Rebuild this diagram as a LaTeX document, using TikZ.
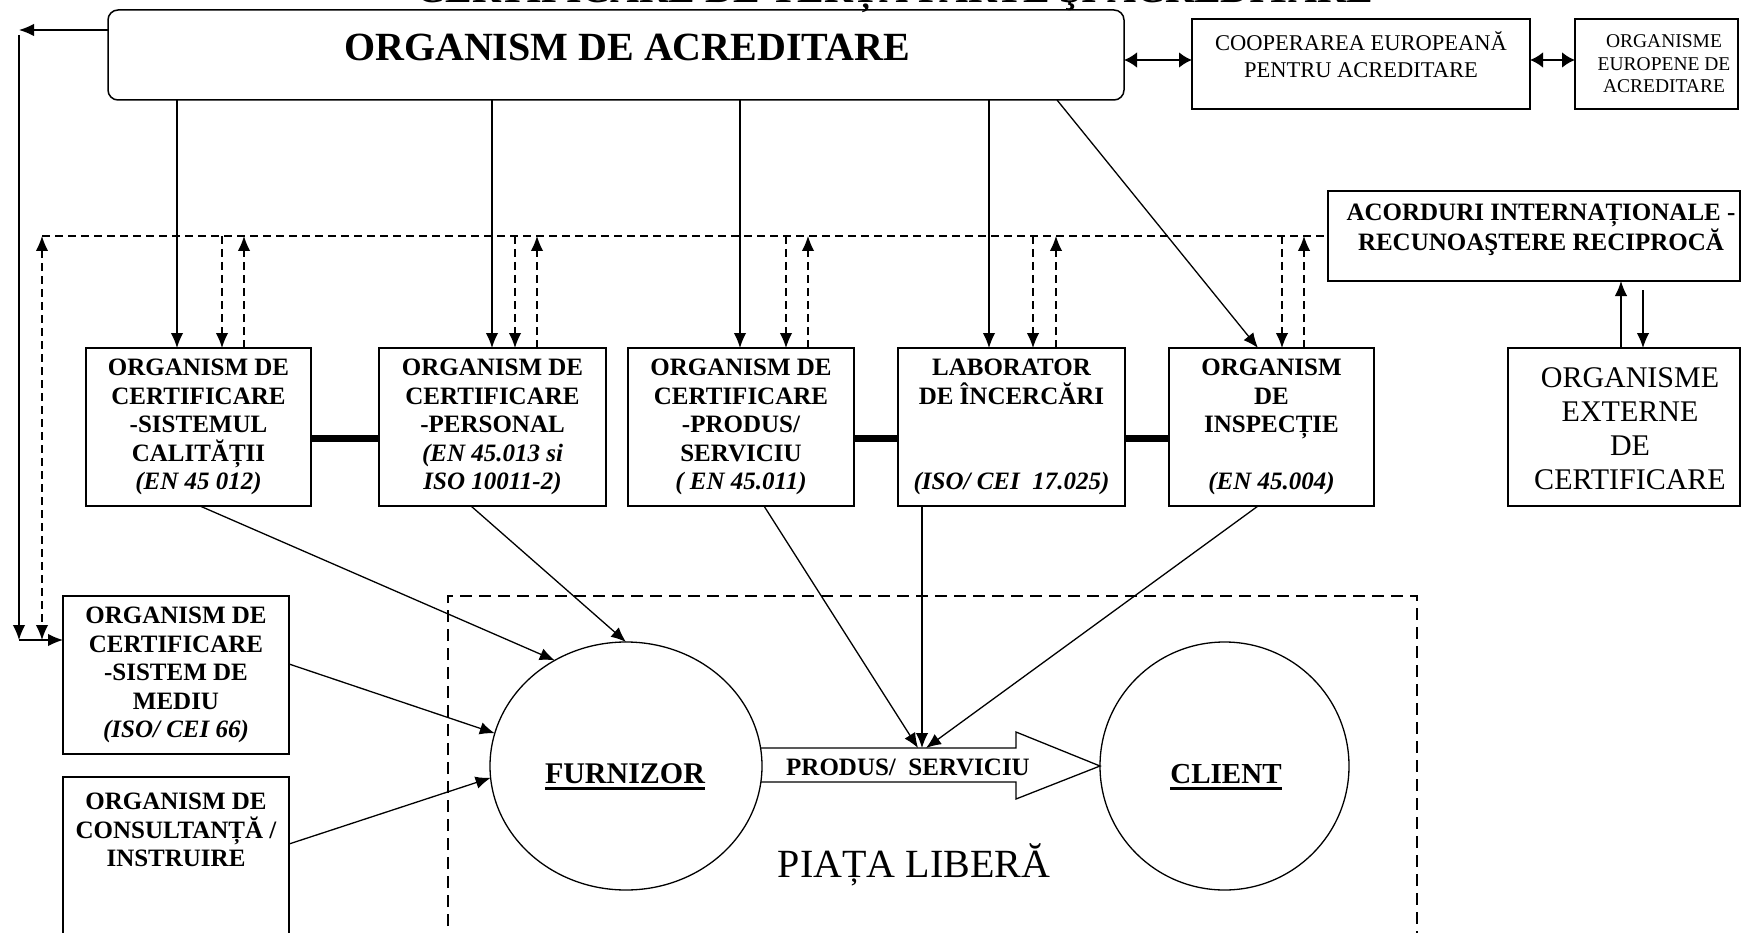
\documentclass[tikz,border=0pt]{standalone}
\usepackage{fontspec}
\setmainfont{Liberation Serif}
\usetikzlibrary{arrows.meta,calc,shapes.geometric}
\newcommand{\myfs}[2]{\fontsize{#1}{#2}\selectfont}
\begin{document}
\begin{tikzpicture}[x=1pt,y=-1pt,
  box/.style={draw, line width=1.5pt, inner sep=0pt, outer sep=0pt},
  rowbox/.style={box, minimum height=158pt, align=center, font=\bfseries\myfs{25}{28.6}},
  conn/.style={line width=1.3pt, -{Latex[length=15pt,width=12.5pt]}},
  dline/.style={line width=1.3pt, dash pattern=on 8pt off 5pt},
  dconn/.style={dline, -{Latex[length=15pt,width=12.5pt]}},
  dbl/.style={line width=2.6pt, {Latex[length=13pt,width=16pt]}-{Latex[length=13pt,width=16pt]}},
  link/.style={line width=7pt},
  oval/.style={draw, ellipse, line width=1.3pt, inner sep=0pt, outer sep=0pt},
  bigtxt/.style={font=\bfseries\myfs{40}{46}, inner sep=0pt}
]
\useasboundingbox (0,0) rectangle (1742,933);
\clip (0,0) rectangle (1742,933);

% title (cut at top)
\node[bigtxt, anchor=base] (title) at (895,3) {CERTIFICARE DE TERȚĂ PARTE ŞI ACREDITARE};

% top row
\node[box, rounded corners=10pt, minimum width=1016pt, minimum height=90pt] (acr) at (616,55) {};
\node[bigtxt] (acrt) at (627,47) {ORGANISM DE ACREDITARE};
\node[box, minimum width=338pt, minimum height=90pt] (coop) at (1361,64) {};
\node[font=\myfs{22.5}{27}, align=center, inner sep=0pt] (coopt) at (1361,55) {COOPERAREA EUROPEANĂ\\PENTRU ACREDITARE};
\node[box, minimum width=163pt, minimum height=90pt] (oeu) at (1656.5,64) {};
\node[font=\myfs{19.5}{22.5}, align=center, inner sep=0pt] (oeut) at (1664,64) {ORGANISME\\EUROPENE DE\\ACREDITARE};

% acorduri
\node[box, minimum width=412pt, minimum height=90pt] (acord) at (1534,236) {};
\node[font=\bfseries\myfs{25}{30}, align=center, inner sep=0pt] (acordt) at (1541,230) {ACORDURI INTERNAȚIONALE -\\RECUNOAŞTERE RECIPROCĂ};
\node[box, minimum width=232pt, minimum height=158pt] (ext) at (1624,427) {};
\node[font=\myfs{30}{34}, align=center, inner sep=0pt] (extt) at (1630,429) {ORGANISME\\EXTERNE\\DE\\CERTIFICARE};

% row of bodies
\node[rowbox, minimum width=225pt] (b1) at (198.5,427) {ORGANISM DE\\CERTIFICARE\\-SISTEMUL\\CALITĂȚII\\\textit{(EN 45 012)}};
\node[rowbox, minimum width=227pt] (b2) at (492.5,427) {ORGANISM DE\\CERTIFICARE\\-PERSONAL\\\textit{(EN 45.013 si}\\\textit{ISO 10011-2)}};
\node[rowbox, minimum width=226pt] (b3) at (741,427) {ORGANISM DE\\CERTIFICARE\\-PRODUS/\\SERVICIU\\\textit{( EN 45.011)}};
\node[rowbox, minimum width=227pt] (b4) at (1011.5,427) {LABORATOR\\DE ÎNCERCĂRI\\~\\~\\\textit{(ISO/ CEI~~17.025)}};
\node[rowbox, minimum width=205pt] (b5) at (1271.5,427) {ORGANISM\\DE\\INSPECȚIE\\~\\\textit{(EN 45.004)}};

% left boxes
\node[rowbox, minimum width=226pt] (med) at (176,675) {ORGANISM DE\\CERTIFICARE\\-SISTEM DE\\MEDIU\\\textit{(ISO/ CEI 66)}};
\node[box, minimum width=226pt, minimum height=168pt] (cons) at (176,861) {};
\node[font=\bfseries\myfs{25}{28.6}, align=center, inner sep=0pt] (const) at (176,830) {ORGANISM DE\\CONSULTANȚĂ /\\INSTRUIRE};

% market
\draw[line width=1.3pt, dash pattern=on 12pt off 7pt] (448,945) -- (448,596) -- (1417,596) -- (1417,945);
\node[oval, minimum width=272pt, minimum height=248pt] (furn) at (626,766) {};
\node[oval, minimum width=249pt, minimum height=248pt] (cli) at (1224.5,766) {};
\node[font=\bfseries\myfs{30}{34}, inner sep=0pt, anchor=base] (furnt) at (625,783) {FURNIZOR};
\node[font=\bfseries\myfs{29}{34}, inner sep=0pt, anchor=base] (clit) at (1226,783) {CLIENT};
\draw[line width=2.6pt] ($(furnt.base west)+(0,5.5)$) -- ($(furnt.base east)+(0,5.5)$);
\draw[line width=2.6pt] ($(clit.base west)+(0,5.5)$) -- ($(clit.base east)+(0,5.5)$);
\draw[line width=1.3pt] ($(furn.east)+(-1,-18)$) -- (1016,748) -- (1016,732) -- (cli.west) -- (1016,799) -- (1016,782) -- ($(furn.east)+(-1,16)$);
\node[font=\bfseries\myfs{25}{28}, inner sep=0pt, anchor=base] (prodt) at (908,775) {PRODUS/~~SERVICIU};
\node[font=\myfs{40}{46}, inner sep=0pt, anchor=base] (piata) at (914,877) {PIAȚA LIBERĂ};

% helper coordinates
\coordinate (v1) at (177,0);  \coordinate (d1a) at (222,0);  \coordinate (d1b) at (244,0);
\coordinate (v2) at (492,0);  \coordinate (d2a) at (515,0);  \coordinate (d2b) at (537,0);
\coordinate (v3) at (740,0);  \coordinate (d3a) at (786,0);  \coordinate (d3b) at (808,0);
\coordinate (v4) at (989,0);  \coordinate (d4a) at (1033,0); \coordinate (d4b) at (1056,0);
\coordinate (d5a) at (1282,0); \coordinate (d5b) at (1304,0);
\coordinate (v5s) at (1057,0); \coordinate (v5t) at (1258,0);
\coordinate (dl) at (42,236);
\coordinate (lt) at (19,30);
\coordinate (ltop) at (19,35);
\coordinate (lb) at (19,640);
\coordinate (dlb) at (42,640);
\coordinate (ly) at (0,438);
\coordinate (ay) at (0,60);
\coordinate (u1) at (1621,0);
\coordinate (u2) at (1643,290);
\coordinate (s1) at (200,0); \coordinate (s2) at (471,0); \coordinate (s3) at (764,0);
\coordinate (s4) at (922,0); \coordinate (s5) at (1258,0);
\coordinate (pa1) at (918,748); \coordinate (pa2) at (922,748); \coordinate (pa3) at (926,748);
\coordinate (my) at (0,664); \coordinate (cy) at (0,844);

% left feedback
\draw[conn] (acr.west |- lt) -- (lt);
\draw[conn] (ltop) -- (lb);
\draw[conn] (lb) -- (lb -| med.west);
\draw[dline, {Latex[length=15pt,width=12.5pt]}-{Latex[length=15pt,width=12.5pt]}] (dl) -- (dlb);
\draw[dline] (dl) -- (acord.west |- dl);

% from acreditare to bodies
\draw[conn] (acr.south -| v1) -- (b1.north -| v1);
\draw[conn] (acr.south -| v2) -- (b2.north -| v2);
\draw[conn] (acr.south -| v3) -- (b3.north -| v3);
\draw[conn] (acr.south -| v4) -- (b4.north -| v4);
\draw[conn] (acr.south -| v5s) -- (b5.north -| v5t);

% dashed pairs
\draw[dconn] (dl -| d1a) -- (b1.north -| d1a);
\draw[dconn] (b1.north -| d1b) -- (dl -| d1b);
\draw[dconn] (dl -| d2a) -- (b2.north -| d2a);
\draw[dconn] (b2.north -| d2b) -- (dl -| d2b);
\draw[dconn] (dl -| d3a) -- (b3.north -| d3a);
\draw[dconn] (b3.north -| d3b) -- (dl -| d3b);
\draw[dconn] (dl -| d4a) -- (b4.north -| d4a);
\draw[dconn] (b4.north -| d4b) -- (dl -| d4b);
\draw[dconn] (dl -| d5a) -- (b5.north -| d5a);
\draw[dconn] (b5.north -| d5b) -- (dl -| d5b);

% thick links
\draw[link] (b1.east |- ly) -- (b2.west |- ly);
\draw[link] (b3.east |- ly) -- (b4.west |- ly);
\draw[link] (b4.east |- ly) -- (b5.west |- ly);

% european links
\draw[dbl] (acr.east |- ay) -- (coop.west |- ay);
\draw[dbl] (coop.east |- ay) -- (oeu.west |- ay);

% acorduri - externe
\draw[conn] (ext.north -| u1) -- (acord.south -| u1);
\draw[conn] (u2) -- (ext.north -| u2);

% to market
\draw[conn] (b1.south -| s1) -- (furn.124);
\draw[conn] (b2.south -| s2) -- (furn.north);
\draw[conn] (med.east |- my) -- (furn.166);
\draw[conn] (cons.east |- cy) -- (furn.185);
\draw[conn] (b3.south -| s3) -- (pa1);
\draw[conn] (b4.south -| s4) -- (pa2);
\draw[conn] (b5.south -| s5) -- (pa3);
\end{tikzpicture}
\end{document}
